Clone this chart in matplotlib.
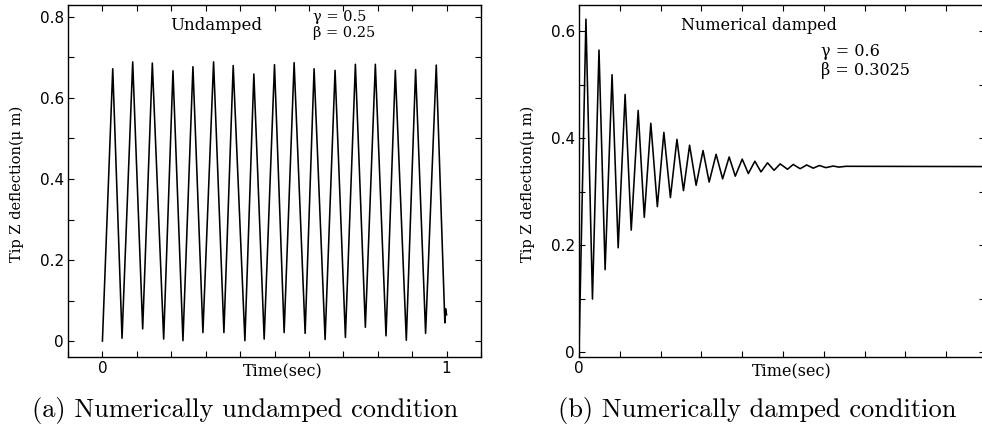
import matplotlib
matplotlib.use('Agg')
import matplotlib.pyplot as plt
from matplotlib.ticker import MultipleLocator, FixedLocator, NullFormatter, FixedFormatter

# (a) undamped: key points (peaks / troughs)
undamped_t = [0.0, 0.030, 0.057, 0.088, 0.117, 0.145, 0.178, 0.205, 0.234, 0.263,
              0.292, 0.323, 0.353, 0.380, 0.414, 0.440, 0.470, 0.500, 0.528, 0.557,
              0.589, 0.615, 0.647, 0.676, 0.706, 0.735, 0.764, 0.793, 0.824, 0.851,
              0.883, 0.910, 0.939, 0.970, 0.995, 0.997, 1.0]
undamped_y = [0.0, 0.672, 0.007, 0.689, 0.030, 0.686, 0.005, 0.667, 0.001, 0.677,
              0.021, 0.689, 0.021, 0.680, 0.001, 0.659, 0.005, 0.682, 0.021, 0.687,
              0.019, 0.672, 0.004, 0.668, 0.009, 0.683, 0.034, 0.683, 0.013, 0.668,
              0.002, 0.670, 0.019, 0.681, 0.045, 0.080, 0.065]

# (b) numerically damped: peaks / troughs, then settles
damped_t = [0.0, 0.017, 0.033, 0.049, 0.064, 0.081, 0.096, 0.113, 0.128, 0.145,
            0.160, 0.176, 0.192, 0.208, 0.224, 0.240, 0.256, 0.271, 0.287, 0.304,
            0.319, 0.336, 0.352, 0.368, 0.383, 0.400, 0.415, 0.431, 0.446, 0.462,
            0.478, 0.493, 0.511, 0.525, 0.542, 0.558, 0.574, 0.589, 0.605, 0.623,
            0.637, 0.654, 1.0]
damped_y = [0.0, 0.623, 0.099, 0.565, 0.154, 0.519, 0.195, 0.482, 0.228, 0.452,
            0.252, 0.428, 0.272, 0.411, 0.289, 0.398, 0.302, 0.387, 0.312, 0.377,
            0.318, 0.370, 0.324, 0.365, 0.329, 0.361, 0.334, 0.357, 0.337, 0.354,
            0.340, 0.352, 0.342, 0.351, 0.343, 0.350, 0.344, 0.349, 0.345, 0.348,
            0.346, 0.3475, 0.347]

W, H = 982, 428
fig = plt.figure(figsize=(W / 100, H / 100), dpi=100)

def fx(px):
    return px / W

def fy(py):
    return 1 - py / H

ax1 = fig.add_axes([fx(68), fy(357.3), fx(481 - 68), (357.3 - 4.7) / H])
ax2 = fig.add_axes([fx(579), fy(357.3), fx(985 - 579), (357.3 - 4.7) / H])

ax1.plot(undamped_t, undamped_y, color='black', lw=1.15)
ax2.plot(damped_t, damped_y, color='black', lw=1.15)

ax1.set_xlim(-0.1, 1.1)
ax1.set_ylim(-0.04, 0.83)
ax2.set_xlim(0, 0.995)
ax2.set_ylim(-0.01, 0.65)

ax1.xaxis.set_major_locator(FixedLocator([0, 1]))
ax1.xaxis.set_major_formatter(FixedFormatter(['0', '1']))
ax1.xaxis.set_minor_locator(MultipleLocator(0.1))
ax1.yaxis.set_major_locator(FixedLocator([0, 0.2, 0.4, 0.6, 0.8]))
ax1.yaxis.set_major_formatter(FixedFormatter(['0', '0.2', '0.4', '0.6', '0.8']))
ax1.yaxis.set_minor_locator(MultipleLocator(0.1))

ax2.xaxis.set_major_locator(FixedLocator([0]))
ax2.xaxis.set_major_formatter(FixedFormatter(['0']))
ax2.xaxis.set_minor_locator(MultipleLocator(0.1))
ax2.yaxis.set_major_locator(FixedLocator([0, 0.2, 0.4, 0.6]))
ax2.yaxis.set_major_formatter(FixedFormatter(['0', '0.2', '0.4', '0.6']))
ax2.yaxis.set_minor_locator(MultipleLocator(0.1))

for ax in (ax1, ax2):
    ax.xaxis.set_minor_formatter(NullFormatter())
    ax.yaxis.set_minor_formatter(NullFormatter())
    ax.tick_params(which='both', direction='in', length=4, width=0.8,
                   top=True, right=True, labelsize=11, pad=3)
    for s in ax.spines.values():
        s.set_linewidth(1.0)
    for lab in ax.get_xticklabels() + ax.get_yticklabels():
        lab.set_family('DejaVu Sans')

serif = 'DejaVu Serif'
fig.text(fx(216), fy(25.5), 'Undamped', ha='center', va='center', family=serif, fontsize=12)
fig.text(fx(313), fy(21), 'γ = 0.5', ha='left', va='baseline', family=serif, fontsize=10.5)
fig.text(fx(313), fy(36.5), 'β = 0.25', ha='left', va='baseline', family=serif, fontsize=10.5)
fig.text(fx(681), fy(25), 'Numerical damped', ha='left', va='center', family=serif, fontsize=11.5)
fig.text(fx(821), fy(56), 'γ = 0.6', ha='left', va='baseline', family=serif, fontsize=11.5)
fig.text(fx(821), fy(75), 'β = 0.3025', ha='left', va='baseline', family=serif, fontsize=11.5)

fig.text(fx(283), fy(372), 'Time(sec)', ha='center', va='center', family=serif, fontsize=11.5)
fig.text(fx(792), fy(372), 'Time(sec)', ha='center', va='center', family=serif, fontsize=11.5)
fig.text(fx(17), fy(184), 'Tip Z deflection(μ m)', ha='center', va='center',
         rotation=90, family=serif, fontsize=10.5)
fig.text(fx(528), fy(184), 'Tip Z deflection(μ m)', ha='center', va='center',
         rotation=90, family=serif, fontsize=10.5)

fig.text(fx(245), fy(411), '(a) Numerically undamped condition', ha='center', va='center',
         fontname='cmr10', fontsize=19)
fig.text(fx(757), fy(411), '(b) Numerically damped condition', ha='center', va='center',
         fontname='cmr10', fontsize=19)

fig.savefig('out.png', dpi=100)
